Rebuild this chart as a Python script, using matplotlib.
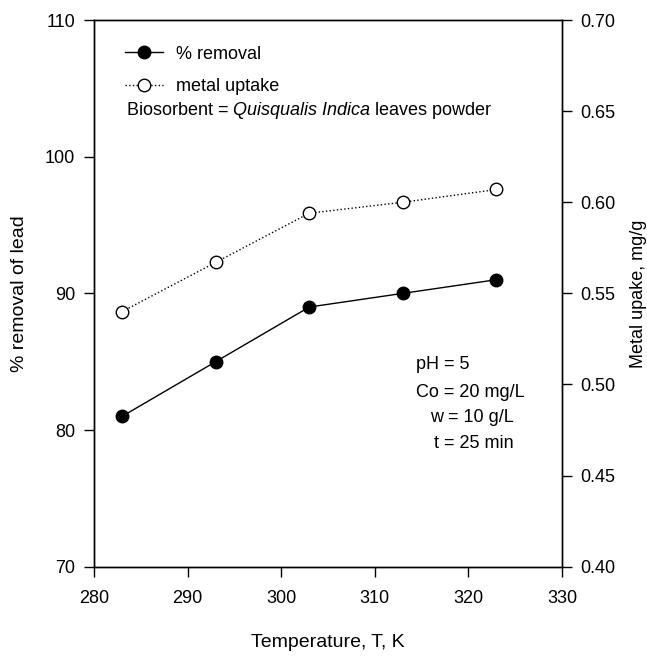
import matplotlib
matplotlib.use("Agg")
import matplotlib.pyplot as plt

plt.rcParams['font.family'] = ['Liberation Sans', 'DejaVu Sans']
plt.rcParams['mathtext.fontset'] = 'custom'
plt.rcParams['mathtext.rm'] = 'Liberation Sans'
plt.rcParams['mathtext.it'] = 'Liberation Sans:italic'

temperature = [283, 293, 303, 313, 323]
removal = [81, 85, 89, 90, 91]
uptake = [0.540, 0.567, 0.594, 0.600, 0.607]

conditions = ["pH = 5", "Co = 20 mg/L", "w = 10 g/L", "t = 25 min"]

fig = plt.figure(figsize=(6.47, 6.70), dpi=100)
ax = fig.add_axes([0.1453, 0.1542, 0.7233, 0.8159])
ax2 = ax.twinx()

l1, = ax.plot(temperature, removal, color="black", lw=1.0, marker="o",
              ms=9, mfc="black", mec="black")
l2, = ax2.plot(temperature, uptake, color="black", lw=1.0, ls=":", marker="o",
               ms=9, mfc="white", mec="black", mew=1.0)

ax.set_xlim(280, 330)
ax.set_ylim(70, 110)
ax2.set_ylim(0.40, 0.70)
ax.set_xticks([280, 290, 300, 310, 320, 330])
ax.set_yticks([70, 80, 90, 100, 110])
ax2.set_yticks([0.40, 0.45, 0.50, 0.55, 0.60, 0.65, 0.70])
ax2.set_yticklabels(["%.2f" % v for v in ax2.get_yticks()])

for a in (ax, ax2):
    a.tick_params(direction="out", length=7.5, width=1, labelsize=13, pad=6)
    for s in a.spines.values():
        s.set_linewidth(1.0)
ax.tick_params(axis="x", pad=9)

ax.set_xlabel("Temperature, T, K", fontsize=14, labelpad=20)
ax.set_ylabel("% removal of lead", fontsize=14, labelpad=12)
ax2.set_ylabel("Metal upake, mg/g", fontsize=13, labelpad=10)

ax.legend([l1, l2], ["% removal", "metal uptake"], loc="center left",
          bbox_to_anchor=(0.066, 0.908), borderaxespad=0, borderpad=0,
          frameon=False, fontsize=13, handlelength=2.1, handletextpad=0.75,
          labelspacing=0.85)

ax.text(283.4, 103.4, "Biosorbent = $\\mathit{Quisqualis\\ Indica}$ leaves powder",
        fontsize=13, va="center", ha="left")

# operating conditions, one line each
cond_x = [314.4, 314.4, 315.9, 316.3]
cond_y = [84.76, 82.78, 80.88, 78.98]
for cx, cy, s in zip(cond_x, cond_y, conditions):
    ax.text(cx, cy, s, fontsize=13, va="center", ha="left")

fig.savefig("out.png", dpi=100)
